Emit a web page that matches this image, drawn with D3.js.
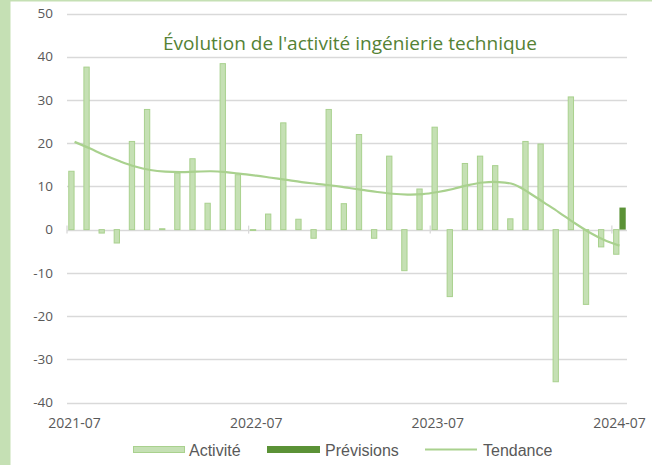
<!DOCTYPE html>
<html>
<head>
<meta charset="utf-8">
<script src="https://cdn.jsdelivr.net/npm/d3@7"></script>
<style>
  body { margin: 0; background: #fff; }
  svg { display: block; }
</style>
</head>
<body>
<svg id="chart"></svg>
<script>
// months on the category axis
var months = ["2021-07","2021-08","2021-09","2021-10","2021-11","2021-12",
              "2022-01","2022-02","2022-03","2022-04","2022-05","2022-06",
              "2022-07","2022-08","2022-09","2022-10","2022-11","2022-12",
              "2023-01","2023-02","2023-03","2023-04","2023-05","2023-06",
              "2023-07","2023-08","2023-09","2023-10","2023-11","2023-12",
              "2024-01","2024-02","2024-03","2024-04","2024-05","2024-06",
              "2024-07"]
var xLabels = ["2021-07","2022-07","2023-07","2024-07"]
var yTicks = [-40,-30,-20,-10,0,10,20,30,40,50]

var activite = [13.5,37.6,-0.8,-3.1,20.4,27.8,0.2,13.1,16.4,6.1,38.4,12.7,
                -0.2,3.6,24.7,2.4,-2.0,27.8,6.0,22.0,-2.0,17.0,-9.5,9.4,
                23.7,-15.5,15.3,17.0,14.8,2.5,20.4,19.8,-35.2,30.7,-17.3,-4.0,
                -5.7]
var previsions = [null,null,null,null,null,null,null,null,null,null,null,null,
                  null,null,null,null,null,null,null,null,null,null,null,null,
                  null,null,null,null,null,null,null,null,null,null,null,null,
                  5.1]
var tendance = [20.3,18.8,17.2,15.8,14.6,13.8,13.4,13.3,13.4,13.5,13.3,12.9,
                12.5,12.0,11.5,11.0,10.6,10.2,9.7,9.2,8.7,8.3,8.1,8.2,
                8.7,9.4,10.3,10.9,11.0,10.5,8.6,6.3,4.0,1.6,-0.6,-2.4,
                -3.7]

var W = 652, H = 465
var svg = d3.select("#chart").attr("width", W).attr("height", H)

var plot = {left: 67, right: 627, top: 13.5, bottom: 402.5}

// frame bits: green strip on the left + thin line on top
svg.append("rect").attr("x", 0).attr("y", 0).attr("width", W).attr("height", H).attr("fill", "#fff")
svg.append("rect").attr("x", 0).attr("y", 0).attr("width", 10.5).attr("height", H).attr("fill", "#c5e0b4")
svg.append("rect").attr("x", 0).attr("y", 0).attr("width", W).attr("height", 1.5).attr("fill", "#c5e0b4")

var x = d3.scaleBand().domain(months).range([plot.left, plot.right]).padding(0)
var xs = d3.scaleBand().domain(["a","p"]).range([0, x.bandwidth()]).paddingInner(0).paddingOuter(0.2)
var y = d3.scaleLinear().domain([-40, 50]).range([plot.bottom, plot.top])

// gridlines
svg.append("g")
   .selectAll("line")
   .data(yTicks)
   .join("line")
   .attr("x1", plot.left).attr("x2", plot.right)
   .attr("y1", d => Math.round(y(d)) + 0.5).attr("y2", d => Math.round(y(d)) + 0.5)
   .attr("stroke", "#d9d9d9").attr("stroke-width", 1.3)

// y labels
svg.append("g")
   .selectAll("text")
   .data(yTicks)
   .join("text")
   .attr("x", 53).attr("y", d => y(d))
   .attr("dy", "0.35em")
   .attr("text-anchor", "end")
   .attr("font-family", "Open Sans, sans-serif")
   .attr("font-size", 13.5)
   .attr("fill", "#595959")
   .text(d => d)

// x axis tick marks at year boundaries
svg.append("g")
   .selectAll("line")
   .data(xLabels)
   .join("line")
   .attr("x1", d => x(d)).attr("x2", d => x(d))
   .attr("y1", y(0) - 4).attr("y2", y(0) + 4)
   .attr("stroke", "#d9d9d9").attr("stroke-width", 1.3)

// x labels
svg.append("g")
   .selectAll("text")
   .data(xLabels)
   .join("text")
   .attr("x", d => x(d) + x.bandwidth() / 2)
   .attr("y", 428)
   .attr("text-anchor", "middle")
   .attr("font-family", "Open Sans, sans-serif")
   .attr("font-size", 14)
   .attr("fill", "#595959")
   .text(d => d)

// Activité bars
svg.append("g")
   .selectAll("rect")
   .data(activite.map((v, i) => ({m: months[i], v: v})))
   .join("rect")
   .attr("x", d => x(d.m) + xs("a") + 0.5)
   .attr("width", xs.bandwidth() - 1)
   .attr("y", d => y(Math.max(0, d.v)))
   .attr("height", d => Math.abs(y(d.v) - y(0)))
   .attr("fill", "#c5e0b4")
   .attr("stroke", "#a9d18e")
   .attr("stroke-width", 1)

// Prévisions bars
svg.append("g")
   .selectAll("rect")
   .data(previsions.map((v, i) => ({m: months[i], v: v})).filter(d => d.v != null))
   .join("rect")
   .attr("x", d => x(d.m) + xs("p"))
   .attr("width", xs.bandwidth())
   .attr("y", d => y(Math.max(0, d.v)))
   .attr("height", d => Math.abs(y(d.v) - y(0)))
   .attr("fill", "#5b9236")

// trend line
var line = d3.line()
    .x((d, i) => x(months[i]) + x.bandwidth() / 2)
    .y(d => y(d))
    .curve(d3.curveCatmullRom)
svg.append("path")
   .datum(tendance)
   .attr("d", line)
   .attr("fill", "none")
   .attr("stroke", "#a9d18e")
   .attr("stroke-width", 2.2)

// title
svg.append("text")
   .attr("x", 350).attr("y", 50)
   .attr("text-anchor", "middle")
   .attr("font-family", "Open Sans, sans-serif")
   .attr("font-size", 19)
   .attr("fill", "#548235")
   .attr("textLength", 374)
   .attr("lengthAdjust", "spacingAndGlyphs")
   .text("Évolution de l'activité ingénierie technique")

// legend
var lg = svg.append("g").attr("font-family", "Liberation Sans, Arial, sans-serif")
   .attr("font-size", 16).attr("fill", "#595959")
lg.append("rect").attr("x", 133.5).attr("y", 446.5).attr("width", 51).attr("height", 6)
  .attr("fill", "#c5e0b4").attr("stroke", "#a9d18e")
lg.append("text").attr("x", 189).attr("y", 455.5).text("Activité")
lg.append("rect").attr("x", 267).attr("y", 446).attr("width", 53).attr("height", 7).attr("fill", "#5b9236")
lg.append("text").attr("x", 325).attr("y", 455.5).text("Prévisions")
lg.append("line").attr("x1", 425).attr("x2", 477).attr("y1", 449.5).attr("y2", 449.5)
  .attr("stroke", "#a9d18e").attr("stroke-width", 2)
lg.append("text").attr("x", 483).attr("y", 455.5).text("Tendance")
</script>
</body>
</html>
